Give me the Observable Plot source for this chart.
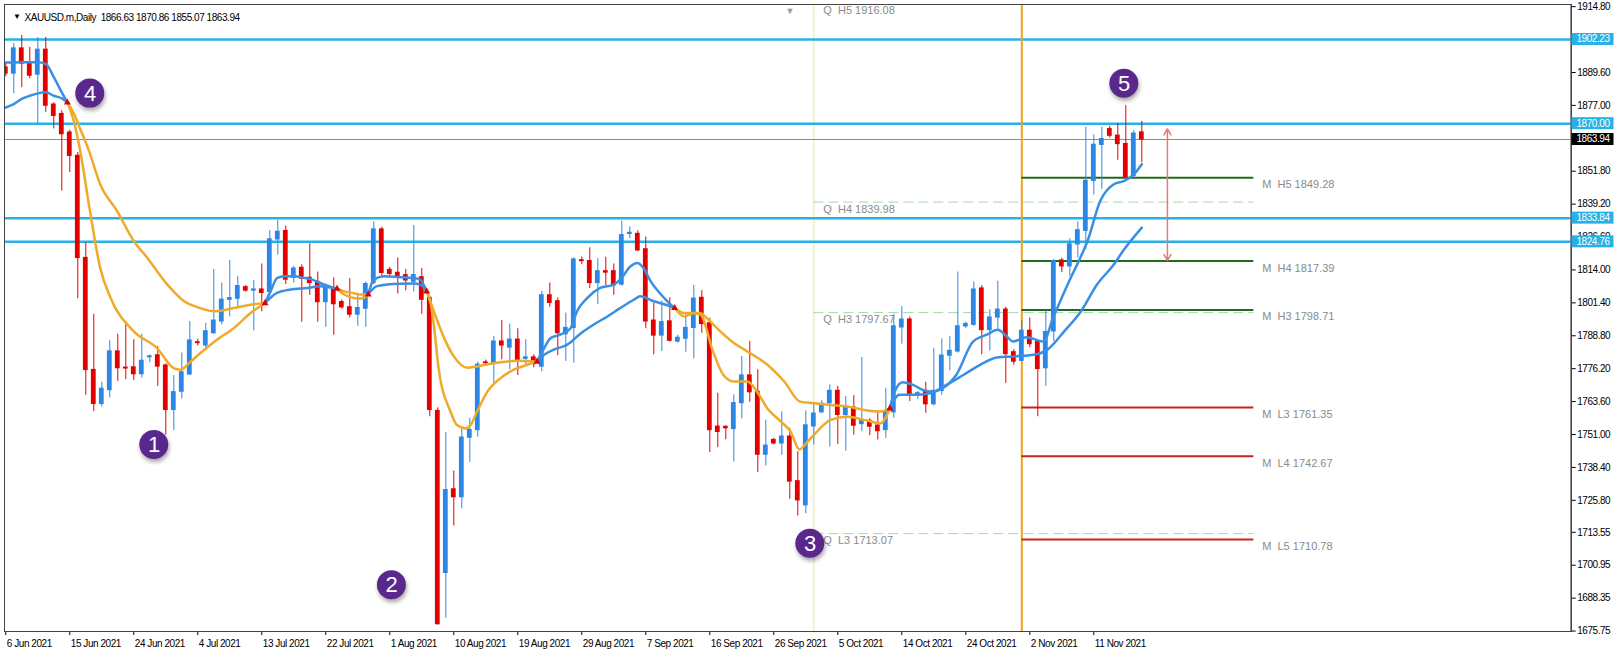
<!DOCTYPE html>
<html><head><meta charset="utf-8">
<script src="https://cdn.jsdelivr.net/npm/d3@7"></script>
<script src="https://cdn.jsdelivr.net/npm/@observablehq/plot@0.6"></script>
<style>
html,body{margin:0;padding:0;background:#fff;}
#chart{position:relative;width:1618px;height:659px;overflow:hidden;}
</style></head><body><div id="chart"></div>
<script>
// ---------- data (daily bars, index 0 = 6 Jun 2021 ... 142 = 18 Nov 2021) ----------
const symbol = "XAUUSD.m", timeframe = "Daily";
const open = [1891.5,1889.2,1898.8,1893.4,1888.8,1898.3,1877.3,1873.7,1866.6,1857.7,1818.6,1775.7,1762.7,1768.0,1782.8,1776.6,1776.7,1774.1,1780.6,1781.3,1777.4,1760.4,1767.4,1774.0,1786.3,1785.1,1789.8,1794.3,1802.6,1803.0,1807.4,1806.1,1806.5,1805.6,1825.7,1828.9,1811.0,1814.8,1811.0,1809.4,1801.7,1807.1,1801.7,1799.7,1796.9,1799.2,1809.0,1829.5,1814.0,1812.9,1812.0,1809.5,1811.2,1803.3,1760.0,1698.0,1730.0,1727.0,1749.8,1752.7,1778.6,1778.0,1786.6,1784.3,1787.3,1780.0,1780.5,1777.0,1804.3,1802.0,1789.4,1791.8,1817.7,1817.4,1809.0,1813.5,1813.5,1808.4,1827.8,1827.8,1821.9,1794.6,1788.9,1794.3,1786.6,1787.7,1791.8,1803.3,1793.6,1754.0,1753.9,1753.1,1763.0,1773.6,1767.3,1743.3,1748.9,1747.6,1750.2,1733.1,1723.9,1754.1,1759.5,1763.0,1767.7,1758.5,1761.3,1755.0,1756.2,1754.4,1752.7,1759.5,1792.0,1795.0,1766.0,1767.2,1762.6,1767.7,1781.2,1782.8,1792.4,1793.0,1806.9,1791.0,1795.8,1798.8,1782.5,1779.2,1790.7,1786.4,1776.4,1790.5,1817.6,1815.4,1823.8,1829.0,1848.1,1861.9,1867.9,1865.4,1862.2,1850.0,1866.63];
const high = [1893.0,1900.7,1903.8,1899.2,1903.0,1903.0,1878.0,1875.0,1867.5,1859.0,1824.4,1797.0,1771.0,1786.9,1789.4,1794.3,1787.3,1789.4,1781.5,1784.7,1778.0,1773.6,1782.2,1794.3,1787.5,1793.6,1814.2,1809.0,1817.6,1811.6,1808.0,1810.0,1816.3,1829.1,1833.0,1830.8,1815.4,1816.0,1824.0,1813.2,1808.7,1811.0,1802.5,1810.7,1804.3,1809.4,1832.4,1830.4,1815.0,1818.6,1814.2,1831.0,1814.6,1803.6,1761.2,1751.8,1737.0,1753.1,1757.2,1778.7,1779.5,1788.6,1794.6,1793.3,1791.5,1787.3,1781.5,1805.8,1809.0,1803.3,1797.5,1818.6,1819.0,1822.5,1818.4,1818.9,1816.3,1832.7,1830.5,1829.0,1826.6,1801.3,1802.2,1803.3,1789.0,1796.9,1808.1,1806.1,1795.5,1766.8,1754.4,1766.2,1780.9,1786.6,1775.8,1756.5,1749.5,1759.7,1753.4,1744.4,1760.0,1762.9,1764.0,1770.0,1769.4,1765.5,1765.9,1780.5,1757.0,1760.0,1768.7,1797.0,1800.0,1796.0,1767.5,1771.0,1784.0,1787.6,1788.6,1813.2,1794.0,1809.4,1808.0,1798.8,1809.7,1799.7,1783.5,1794.6,1795.6,1787.0,1798.4,1818.0,1818.5,1826.0,1832.4,1868.6,1865.7,1868.6,1869.0,1870.1,1876.9,1867.3,1870.86];
const low = [1888.0,1881.5,1883.8,1887.2,1870.0,1874.3,1868.0,1844.2,1851.3,1803.0,1766.0,1759.8,1761.5,1765.0,1771.3,1772.0,1771.6,1772.6,1778.5,1769.4,1750.8,1752.5,1764.6,1773.6,1784.9,1783.0,1789.4,1793.0,1796.0,1799.4,1805.5,1790.7,1798.0,1804.6,1819.7,1808.4,1809.0,1794.0,1804.3,1794.0,1792.0,1789.0,1799.0,1795.6,1792.4,1792.0,1808.4,1811.6,1811.5,1804.8,1806.0,1805.6,1797.0,1757.8,1678.0,1680.6,1716.0,1722.5,1740.3,1750.0,1777.0,1770.0,1779.6,1775.8,1773.6,1777.7,1776.5,1775.0,1799.7,1781.2,1779.0,1778.3,1816.0,1806.9,1800.7,1808.0,1804.3,1807.8,1826.0,1821.0,1791.5,1781.5,1782.8,1786.4,1786.0,1782.5,1780.0,1789.8,1744.1,1746.0,1749.0,1740.5,1757.0,1763.3,1736.4,1739.0,1747.0,1743.0,1726.2,1719.8,1720.7,1747.0,1759.0,1746.2,1747.2,1744.6,1750.8,1752.1,1750.5,1748.9,1749.5,1757.2,1785.6,1763.6,1764.5,1759.1,1762.0,1766.0,1775.4,1782.2,1791.5,1792.4,1781.5,1783.0,1790.7,1770.6,1777.5,1779.0,1784.3,1757.8,1769.4,1786.6,1813.0,1811.6,1818.6,1821.8,1842.7,1844.9,1864.5,1856.0,1849.3,1849.0,1855.07];
const close = [1889.2,1898.8,1893.0,1888.4,1898.3,1876.9,1873.0,1866.0,1857.7,1818.6,1775.7,1762.7,1768.5,1782.8,1776.4,1776.3,1774.1,1779.2,1780.9,1777.0,1760.4,1767.2,1774.8,1787.0,1786.0,1790.5,1794.6,1802.6,1803.2,1807.8,1806.1,1806.5,1805.2,1825.7,1828.6,1810.3,1814.5,1810.7,1809.0,1801.7,1807.8,1800.9,1799.7,1796.9,1799.4,1808.6,1829.5,1812.9,1812.5,1811.2,1810.0,1812.0,1802.6,1760.4,1678.4,1729.7,1727.0,1749.8,1752.7,1777.7,1778.3,1786.6,1785.1,1787.3,1779.6,1780.5,1778.0,1804.3,1801.4,1789.8,1791.8,1818.0,1817.4,1809.0,1813.5,1813.0,1808.1,1827.3,1828.2,1821.5,1794.3,1788.9,1794.0,1786.9,1788.0,1791.8,1803.0,1793.3,1752.7,1752.0,1753.4,1763.0,1773.6,1767.2,1743.3,1746.7,1747.6,1750.2,1733.0,1725.8,1754.5,1759.0,1762.7,1767.7,1758.5,1761.3,1754.4,1756.3,1754.0,1752.3,1759.5,1792.4,1795.0,1766.0,1766.8,1762.6,1767.7,1781.2,1783.0,1792.4,1793.3,1806.5,1791.0,1795.8,1798.8,1781.8,1778.9,1790.7,1785.6,1776.1,1790.2,1817.4,1815.4,1823.8,1829.2,1848.1,1861.9,1864.1,1865.4,1862.2,1849.6,1866.2,1863.94];

// x-axis tick labels (every 8th bar)
const xTickBars = [0,8,16,24,32,40,48,56,64,72,80,88,96,104,112,120,128,136];
const xTickLabels = ["6 Jun 2021","15 Jun 2021","24 Jun 2021","4 Jul 2021","13 Jul 2021","22 Jul 2021","1 Aug 2021","10 Aug 2021","19 Aug 2021","29 Aug 2021","7 Sep 2021","16 Sep 2021","26 Sep 2021","5 Oct 2021","14 Oct 2021","24 Oct 2021","2 Nov 2021","11 Nov 2021"];
// y-axis tick labels (those hidden behind the price boxes are left out)
const yTicks = [1914.80,1889.60,1877.00,1851.80,1839.20,1826.60,1814.00,1801.40,1788.80,1776.20,1763.60,1751.00,1738.40,1725.80,1713.55,1700.95,1688.35,1675.75];

// horizontal levels
const levels = [1902.23, 1870.00, 1833.84, 1824.76];
const lastPrice = 1863.94;

// pivots
const monthStartBar = 127, quarterStartBar = 101, pivotEndBar = 156;
const mPivotNames = ["H5","H4","H3","L3","L4","L5"];
const mPivotValues = [1849.28, 1817.39, 1798.71, 1761.35, 1742.67, 1710.78];
const qPivotNames = ["H5","H4","H3","L3"];
const qPivotValues = [1916.08, 1839.98, 1797.67, 1713.07];

// moving averages (bar, price)
const fastMA = [[0,1893.4],[2,1893.5],[4,1893.5],[5,1892.9],[6,1887.8],[7,1882.0],[7.7,1878.1],[8.5,1871.1],[9.3,1859.6],[10.5,1837.0],[11.8,1814.8],[13.1,1803.3],[16,1790.5],[18.9,1784.1],[21,1776.4],[21.8,1775.8],[23.1,1778.9],[24.3,1782.1],[26.4,1787.3],[28.5,1791.7],[30.6,1797.5],[32.4,1801.3],[33.1,1805.8],[33.9,1810.9],[34.8,1811.6],[36,1811.6],[37.4,1810.9],[38.1,1810.5],[39.8,1808.4],[41.4,1806.8],[42.3,1804.6],[43.5,1803.3],[44.5,1803.1],[45.3,1804.6],[46,1810.3],[47.3,1811.6],[49.3,1811.2],[51,1810.9],[51.8,1810.3],[52.6,1805.8],[53.1,1801.5],[53.5,1793.1],[54.1,1776.4],[55.6,1759.7],[56.4,1754.6],[57.5,1753.3],[58.1,1754.6],[58.9,1759.7],[60.2,1767.4],[61.8,1772.5],[63.5,1775.8],[65.2,1777.7],[66.4,1778.9],[67.3,1784.1],[68.1,1787.9],[69.3,1789.2],[70.6,1791.7],[71.4,1798.2],[72.7,1803.3],[74.3,1807.1],[76,1808.4],[76.8,1810.3],[78.1,1815.4],[78.9,1816.7],[79.7,1814.8],[80.6,1809.7],[81.9,1804.6],[82.7,1802.0],[83.6,1799.4],[84.8,1796.2],[86,1797.4],[86.8,1797.0],[88.4,1782.8],[89.7,1773.8],[91,1771.3],[92.7,1771.3],[93.9,1767.4],[95.2,1761.0],[96.9,1755.9],[98.1,1752.1],[99.2,1745.3],[100.2,1748.2],[101,1750.8],[103.1,1756.6],[105.2,1757.8],[107.3,1756.6],[109.3,1755.3],[110.5,1761.0],[111.1,1767.4],[112.1,1771.0],[113.4,1770.0],[114.6,1768.1],[115.9,1767.4],[117.1,1768.7],[118.8,1773.8],[120.9,1786.6],[122.6,1789.2],[124,1791.1],[125.1,1788.6],[125.9,1786.6],[127.6,1788.2],[129.7,1786.6],[130.9,1795.6],[131.8,1802.0],[133.1,1810.9],[134.3,1818.6],[135.2,1825.0],[136.8,1840.4],[138.5,1846.8],[139.8,1848.1],[141,1850.6],[142,1854.5]];
const slowMA = [[0,1876.2],[1,1877.5],[2,1879.5],[3,1880.7],[4,1881.6],[5,1882.0],[6,1880.7],[7,1879.7],[7.7,1878.1],[8.5,1874.0],[9.3,1868.0],[10.4,1859.6],[11.8,1846.8],[13.9,1836.6],[16,1825.1],[17.7,1818.6],[20.2,1808.4],[22.3,1802.0],[24.3,1799.4],[26,1798.2],[28.5,1799.4],[30.6,1800.7],[32.4,1801.3],[33.9,1805.2],[35.6,1806.5],[37.7,1807.1],[39.3,1807.8],[41.4,1806.8],[42.3,1805.8],[43.5,1805.1],[44.3,1804.6],[45.3,1804.6],[46.4,1807.8],[49.3,1808.7],[51,1808.8],[51.8,1808.4],[52.6,1805.8],[53.5,1798.2],[54.8,1787.9],[56,1780.9],[57.7,1776.6],[58.9,1777.0],[60.2,1777.9],[61.8,1778.7],[63.9,1779.2],[66.4,1778.9],[67.3,1781.5],[68.5,1783.5],[70.2,1785.4],[71.9,1789.8],[73.5,1793.1],[75.2,1796.2],[76.8,1799.4],[78.5,1802.6],[79.3,1803.9],[81,1802.0],[82.7,1800.5],[83.6,1799.4],[84.8,1797.5],[86.8,1797.5],[87.6,1795.6],[89.3,1790.5],[91,1786.0],[92.7,1782.8],[95.2,1777.7],[97.3,1771.3],[99.3,1763.6],[101,1763.0],[103.1,1762.3],[105.2,1761.7],[107.3,1760.4],[109.3,1759.8],[110.5,1761.0],[111.7,1766.2],[113.4,1766.2],[115.5,1766.8],[117.6,1770.0],[119.7,1773.8],[121.8,1777.7],[123.9,1780.5],[126,1780.9],[128.5,1781.5],[130.2,1783.5],[132.3,1790.5],[134.4,1798.2],[136.4,1808.4],[138.5,1816.1],[139.8,1821.9],[142,1830.2]];
// bars where the two averages cross (colour alternates blue / orange, starting blue)
const crossBars = [7.7, 32.4, 41.4, 45.3, 52.6, 66.4, 83.6, 110.5];

// numbered annotations
const markerLabels = ["1","2","3","4","5"];
const markerBars = [18.5, 48.2, 100.5, 10.5, 139.75];
const markerPrices = [1747.2, 1693.5, 1709.4, 1881.7, 1885.5];

// red range arrow
const arrowBar = 145.2, arrowTop = 1868.0, arrowBottom = 1817.6;

// ---------- styles ----------
const candleBlue = "#2B87E6", candleRed = "#E50000";
const maBlue = "#3A8FE4", maOrange = "#F0AA2A";
const levelBlue = "#27B1E6";
const purple = "#5A288C";

// ---------- build tables ----------
const bars = close.map((c, i) => ({i, o: open[i], h: high[i], l: low[i], c, up: c >= open[i]}));
const upBars = bars.filter(d => d.up), downBars = bars.filter(d => !d.up);

const maRows = [];
[["f", fastMA], ["s", slowMA]].forEach(([name, pts]) => {
  const b = [pts[0][0], ...crossBars, pts[pts.length - 1][0]];
  for (let k = 0; k < b.length - 1; k++) {
    pts.filter(p => p[0] >= b[k] && p[0] <= b[k + 1])
       .forEach(p => maRows.push({bar: p[0], v: p[1], z: name + k, orange: k % 2 === 1}));
  }
});
const crossRows = crossBars.map(b => ({bar: b, v: fastMA.find(p => p[0] === b)[1]}));

const mRows = mPivotNames.map((n, i) => ({name: n, v: mPivotValues[i], high: n[0] === "H"}));
const qRows = qPivotNames.map((n, i) => ({name: n, v: qPivotValues[i]}));
const markers = markerLabels.map((t, i) => ({t, bar: markerBars[i], v: markerPrices[i]}));
const arrowMid = (arrowTop + arrowBottom) / 2;

const f2 = v => v.toFixed(2);
const titleText = `${symbol},${timeframe}\u00A0\u00A0${f2(open[142])} ${f2(high[142])} ${f2(low[142])} ${f2(close[142])}`;

const W = 1618, H = 659;
const plot = Plot.plot({
  width: W, height: H,
  marginLeft: 4, marginRight: 47.3, marginTop: 4, marginBottom: 28,
  style: {fontFamily: "'Liberation Sans', Arial, sans-serif", fontSize: "10px", letterSpacing: "-0.45px", background: "#fff", overflow: "visible", color: "#000"},
  x: {domain: [-0.16, 195.67], axis: "bottom", ticks: xTickBars, tickFormat: () => "", tickSize: 4, label: null, line: true},
  y: {domain: [1675.58, 1915.63], axis: "right", ticks: yTicks, tickFormat: d => d.toFixed(2), tickSize: 4, tickPadding: 2, label: null, line: true},
  marks: [
    Plot.ruleX([quarterStartBar], {x: d => d, stroke: "#F6F0D2", strokeWidth: 2}),
    Plot.ruleY(qRows, {y: "v", x1: quarterStartBar, x2: pivotEndBar, stroke: "#A8D8A8", strokeWidth: 1, strokeDasharray: "10,5", clip: true}),
    Plot.ruleY(levels, {y: d => d, stroke: levelBlue, strokeWidth: 2.5}),
    Plot.ruleY([lastPrice], {y: d => d, stroke: "#8C8C8C", strokeWidth: 1}),
    Plot.ruleX([monthStartBar], {x: d => d, stroke: "#F0A21E", strokeWidth: 2}),
    Plot.ruleY(mRows.filter(d => d.high), {y: "v", x1: monthStartBar, x2: pivotEndBar, stroke: "#1F6B1F", strokeWidth: 2}),
    Plot.ruleY(mRows.filter(d => !d.high), {y: "v", x1: monthStartBar, x2: pivotEndBar, stroke: "#CC2222", strokeWidth: 2}),
    Plot.ruleX(upBars, {x: "i", y1: "l", y2: "h", stroke: candleBlue, strokeWidth: 1, clip: true}),
    Plot.ruleX(downBars, {x: "i", y1: "l", y2: "h", stroke: candleRed, strokeWidth: 1, clip: true}),
    Plot.rect(upBars, {x1: d => d.i - 0.3, x2: d => d.i + 0.3, y1: "o", y2: "c", fill: candleBlue, insetTop: -0.6, insetBottom: -0.6, clip: true}),
    Plot.rect(downBars, {x1: d => d.i - 0.3, x2: d => d.i + 0.3, y1: "o", y2: "c", fill: candleRed, insetTop: -0.6, insetBottom: -0.6, clip: true}),
    Plot.line(maRows.filter(d => !d.orange), {x: "bar", y: "v", z: "z", stroke: maBlue, strokeWidth: 2.5, curve: "monotone-x", clip: true}),
    Plot.line(maRows.filter(d => d.orange), {x: "bar", y: "v", z: "z", stroke: maOrange, strokeWidth: 2.5, curve: "monotone-x", clip: true}),
    Plot.dot(crossRows, {x: "bar", y: "v", symbol: "triangle", r: 2.6, fill: "#E00000"}),
    Plot.arrow([arrowTop, arrowBottom], {x1: () => arrowBar, x2: () => arrowBar, y1: () => arrowMid, y2: d => d, stroke: "#E47A74", strokeWidth: 1.5, headLength: 7}),
    Plot.text(qRows, {x: () => quarterStartBar, y: "v", text: d => `Q\u00A0\u00A0${d.name} ${f2(d.v)}`, dx: 9.5, dy: 7, textAnchor: "start", fill: "#8a8a8a", fontSize: 11}),
    Plot.text(mRows, {x: () => pivotEndBar, y: "v", text: d => `M\u00A0\u00A0${d.name} ${f2(d.v)}`, dx: 8.4, dy: 7, textAnchor: "start", fill: "#8a8a8a", fontSize: 11}),
    Plot.dot(markers, {x: "bar", y: "v", r: 14.5, fill: purple}),
    Plot.text(markers, {x: "bar", y: "v", text: "t", fill: "white", fontSize: 22, dy: 0.5}),
    Plot.text(xTickBars, {x: d => d, text: (d, i) => xTickLabels[i], frameAnchor: "bottom", dy: 15, dx: 1, textAnchor: "start", fill: "#000"}),
    Plot.text(["\u25BC"], {frameAnchor: "top-left", dx: 8.5, dy: 9, fontSize: 8, fill: "#000"}),
    Plot.text([titleText], {frameAnchor: "top-left", dx: 20, dy: 9.5, textAnchor: "start", fill: "#000"}),
    Plot.text(["\u25BC"], {frameAnchor: "top-left", dx: 781, dy: 3, fontSize: 9, fill: "#9a9a9a"}),
    Plot.frame({stroke: "#444"})
  ]
});

document.getElementById("chart").appendChild(plot);

// price boxes on the right axis, positioned through the plot's y scale
const ys = plot.scale("y");
const svg = d3.select(plot);
svg.selectAll(`g[fill="#8a8a8a"]`).style("letter-spacing", "0px");
svg.selectAll(`g[fill="${purple}"]`).style("filter", "drop-shadow(1px 3px 2px rgba(0,0,0,0.35))");
const boxes = levels.map(v => ({v, bg: levelBlue})).concat([{v: lastPrice, bg: "#000"}]);
const bg = svg.append("g").attr("text-anchor", "start");
boxes.forEach(b => {
  const y = ys.apply(b.v);
  bg.append("rect").attr("x", 1571.5).attr("y", y - 6).attr("width", 42).attr("height", 12).attr("fill", b.bg);
  bg.append("text").attr("x", 1576.5).attr("y", y).attr("dy", "0.34em").attr("text-anchor", "start").attr("fill", "#fff").text(f2(b.v));
});
</script></body></html>
